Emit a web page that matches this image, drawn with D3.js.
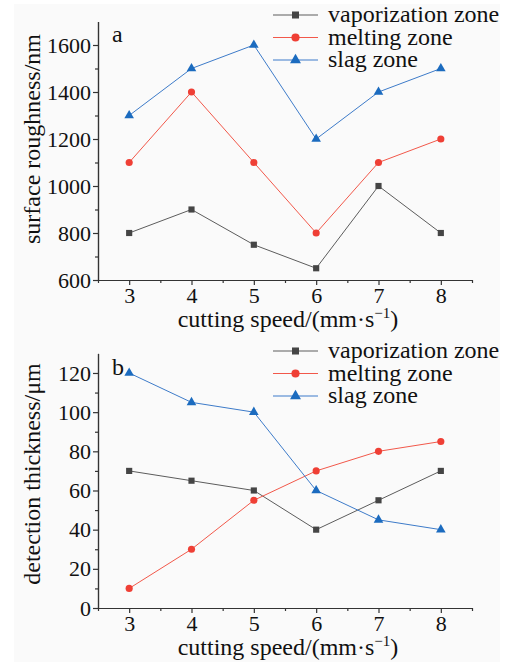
<!DOCTYPE html>
<html>
<head>
<meta charset="utf-8">
<script src="https://cdn.jsdelivr.net/npm/d3@7"></script>
</head>
<body style="margin:0">
<svg width="507" height="666"></svg>
<script>
// cutting speed (mm/s)
var speeds = [3, 4, 5, 6, 7, 8];
var seriesNames = ["vaporization zone", "melting zone", "slag zone"];

// panel a: surface roughness / nm
var roughVapor = [800, 900, 750, 650, 1000, 800];
var roughMelt = [1100, 1400, 1100, 800, 1100, 1200];
var roughSlag = [1300, 1500, 1600, 1200, 1400, 1500];
var roughTicks = [600, 800, 1000, 1200, 1400, 1600];

// panel b: detection thickness / um
var thickVapor = [70, 65, 60, 40, 55, 70];
var thickMelt = [10, 30, 55, 70, 80, 85];
var thickSlag = [120, 105, 100, 60, 45, 40];
var thickTicks = [0, 20, 40, 60, 80, 100, 120];

var serif = "'Liberation Serif'";
var colors = {line: ["#5c5c5c", "#f2584a", "#3d7bc9"], mark: ["#454545", "#ef3f35", "#1b6bbf"]};
var shapes = [d3.symbolSquare, d3.symbolCircle, d3.symbolTriangle];
var sizes = [38, 40, 40];

var svg = d3.select("svg");
svg.append("rect").attr("x", 14).attr("y", 4).attr("width", 486).attr("height", 658).attr("fill", "#fafafa");

var xScale = d3.scaleLinear().domain([2.5, 8.5]).range([98, 472]);
var fmt = d3.format("d");

function styleAxis(sel) {
  sel.selectAll("path, line").attr("stroke", "#333").attr("stroke-width", 1.2);
  sel.selectAll("text").style("font-family", serif).style("font-size", "22px").attr("fill", "#111");
}

function addText(g, size) {
  return g.append("text").style("font-family", serif).style("font-size", size + "px").attr("fill", "#111");
}

function drawPanel(p) {
  var g = svg.append("g");
  var y = d3.scaleLinear().domain(p.domain).range([p.bottom, p.top]);

  // minor ticks
  var xMinor = d3.range(2.5, 8.6, 0.5).filter(function(d){ return d % 1 != 0; });
  g.append("g").attr("transform", "translate(0," + p.bottom + ")")
    .call(d3.axisBottom(xScale).tickValues(xMinor).tickSize(3).tickSizeOuter(0).tickFormat(""))
    .call(styleAxis);
  g.append("g").attr("transform", "translate(0," + p.bottom + ")")
    .call(d3.axisBottom(xScale).tickValues(speeds).tickSize(5).tickSizeOuter(0).tickPadding(2).tickFormat(fmt))
    .call(styleAxis);

  var yMinor = d3.range(p.domain[0] + p.minor, p.domain[1], p.minor * 2);
  g.append("g").attr("transform", "translate(98,0)")
    .call(d3.axisLeft(y).tickValues(yMinor).tickSize(3).tickSizeOuter(0).tickFormat(""))
    .call(styleAxis);
  g.append("g").attr("transform", "translate(98,0)")
    .call(d3.axisLeft(y).tickValues(p.ticks).tickSize(5).tickSizeOuter(0).tickPadding(2).tickFormat(fmt))
    .call(styleAxis);

  // titles
  var xt = addText(g, 24).attr("x", 288).attr("y", p.bottom + 47).attr("text-anchor", "middle");
  xt.append("tspan").text("cutting speed/(mm·s");
  xt.append("tspan").style("font-size", "15px").attr("dy", -9).text("−1");
  xt.append("tspan").attr("dy", 9).text(")");

  addText(g, 24)
    .attr("transform", "translate(40," + p.titleY + ") rotate(-90)")
    .attr("text-anchor", "middle")
    .text(p.yTitle);

  addText(g, 24).attr("x", 112).attr("y", p.labelY).text(p.label);

  // series
  var line = d3.line().x(function(d, i){ return xScale(speeds[i]); }).y(function(d){ return y(d); });
  p.series.forEach(function(vals, k) {
    g.append("path").datum(vals).attr("d", line)
      .attr("fill", "none").attr("stroke", colors.line[k]).attr("stroke-width", 1);
    g.selectAll(".m" + k).data(vals).enter().append("path")
      .attr("transform", function(d, i){ return "translate(" + xScale(speeds[i]) + "," + y(d) + ")"; })
      .attr("d", d3.symbol().type(shapes[k]).size(sizes[k]))
      .attr("fill", colors.mark[k]);
  });

  // legend
  seriesNames.forEach(function(name, k) {
    var ly = p.legendY + k * 22.5;
    g.append("line").attr("x1", 273).attr("x2", 318).attr("y1", ly).attr("y2", ly)
      .attr("stroke", colors.line[k]).attr("stroke-width", 1.2);
    g.append("path").attr("transform", "translate(295.5," + ly + ")")
      .attr("d", d3.symbol().type(shapes[k]).size(sizes[k] * 1.3)).attr("fill", colors.mark[k]);
    addText(g, 24).attr("x", 328).attr("y", ly + 7).text(name);
  });
}

drawPanel({
  domain: [600, 1700], top: 21.5, bottom: 280, ticks: roughTicks, minor: 100,
  series: [roughVapor, roughMelt, roughSlag],
  yTitle: "surface roughness/nm", titleY: 139, label: "a", labelY: 42, legendY: 15
});
drawPanel({
  domain: [0, 130], top: 353.4, bottom: 608, ticks: thickTicks, minor: 10,
  series: [thickVapor, thickMelt, thickSlag],
  yTitle: "detection thickness/μm", titleY: 474, label: "b", labelY: 375, legendY: 351
});
</script>
</body>
</html>
